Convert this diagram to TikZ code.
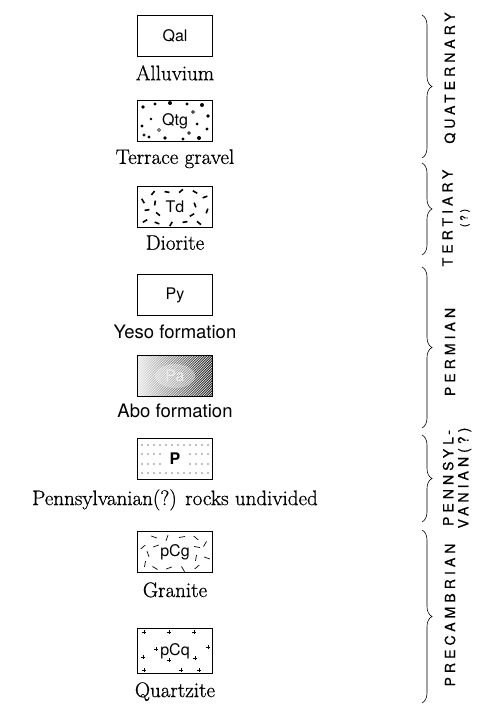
\documentclass[tikz,border=0pt]{standalone}
\usepackage{fontspec}
\newfontfamily\labelfont[FakeBold=0.8]{Latin Modern Roman}
\newfontfamily\gsans{TeX Gyre Heros}
\newfontfamily\erafont[LetterSpace=29,FakeBold=0.6]{TeX Gyre Heros}
\usetikzlibrary{positioning}
\usetikzlibrary{decorations.pathreplacing}

\tikzset{
  unitbox/.style={draw, line width=1.3pt, minimum width=75pt, minimum height=41pt,
    inner sep=0pt, font=\gsans\fontsize{16}{18}\selectfont},
  unitname/.style={inner sep=0pt, font=\labelfont\fontsize{21}{24}\selectfont},
  sansname/.style={inner sep=0pt, font=\gsans\fontsize{18.5}{21}\selectfont},
  eraname/.style={rotate=90, align=center, inner sep=0pt,
    font=\erafont\fontsize{14}{15}\selectfont},
  erabrace/.style={decorate, decoration={brace, amplitude=10pt}, line width=.6pt},
  % fills of the legend boxes
  gravelfill/.style={path picture={
    \foreach \a/\b/\r in {-32/14/1.8, -20/17/1.6, -5/18/2, 12/17/1.7, 27/16/2, 33/5/1.8,
      32/-8/1.7, 24/-17/2, 8/-18/1.6, -10/-17/1.8, -26/-16/1.7, -33/-5/1.6, -24/2/1.4, 22/-3/1.5}
      {\fill ([shift={(\a pt,\b pt)}]path picture bounding box.center) circle (\r pt);}
    \foreach \a/\b/\r in {-16/-9/1.5, 18/9/1.4, -31/-14/1.2, 14/-12/1.3}
      {\draw[line width=.7pt] ([shift={(\a pt,\b pt)}]path picture bounding box.center) circle (\r pt);}
    }},
  dioritefill/.style={path picture={
    \foreach \a/\b/\c in {-30/-14/30, -18/-16/-20, -4/-17/60, 10/-15/10, 24/-16/-40, 32/-4/70,
      30/10/20, 20/15/-30, 6/16/40, -8/15/-10, -22/14/50, -32/6/-60, -28/-3/10, -20/4/80,
      20/2/-70, 17/-8/30, -17/-7/-40}
      {\draw[line width=1.6pt] ([shift={(\a pt,\b pt)}]path picture bounding box.center)
        ++(\c:-2.5pt) -- ++(\c:5pt);}
    }},
  hatchfill/.style={path picture={
    \shade[left color=gray!20, right color=black!90] (path picture bounding box.south west)
      rectangle (path picture bounding box.north east);
    \foreach \k in {0,2.5,...,130}
      {\draw[white, line width=.45pt] ([xshift=\k pt-45pt]path picture bounding box.south west)
        -- ++(45pt,45pt);}
    \fill[white, opacity=.35] (path picture bounding box.center) ellipse (20pt and 12pt);
    }},
  dotfill/.style={path picture={
    \foreach \a in {-33,-27,...,33} \foreach \b in {-14,14}
      {\fill[gray] ([shift={(\a pt,\b pt)}]path picture bounding box.center) circle (.8pt);}
    \foreach \a in {-33,-27,-21,-15,15,21,27,33} \foreach \b in {-5,5}
      {\fill[gray] ([shift={(\a pt,\b pt)}]path picture bounding box.center) circle (.8pt);}
    }},
  granitefill/.style={path picture={
    \foreach \a/\b/\c in {-30/-12/80, -20/-16/-30, -6/-16/20, 8/-17/-60, 22/-15/40, 32/-6/-20,
      30/8/60, 21/14/-40, 7/15/10, -8/14/70, -21/15/-20, -32/5/40, -27/-2/-70, -19/6/20,
      21/-6/80, 22/5/-10}
      {\draw[line width=.7pt] ([shift={(\a pt,\b pt)}]path picture bounding box.center)
        ++(\c:-3pt) -- ++(\c:6pt);}
    }},
  quartzfill/.style={path picture={
    \foreach \a/\b in {-31/19, -6/19, 19/19, -31/-19, 6/-19, 24/-19, -32/-6, 33/4,
      -19/2, 20/-7, -6/-9}
      {\draw[line width=.8pt] ([shift={(\a pt,\b pt)}]path picture bounding box.center)
        +(-2.2pt,0) -- +(2.2pt,0) +(0,-2.2pt) -- +(0,2.2pt);}
    }},
}

\begin{document}
\begin{tikzpicture}[x=1pt, y=-1pt]
\useasboundingbox (0,0) rectangle (478,711);
%% legend boxes and their names
\node[unitbox] (qal) at (175,36) {Qal};
\node[unitname, anchor=north, below=8pt of qal] (alluvium) {Alluvium};
\node[unitbox, gravelfill] (qtg) at (175,121) {Qtg};
\node[unitname, anchor=north, below=7pt of qtg] (gravel) {Terrace gravel};
\node[unitbox, dioritefill] (td) at (175,207) {Td};
\node[unitname, anchor=north, below=7pt of td] (diorite) {Diorite};
\node[unitbox] (py) at (175,295) {Py};
\node[sansname, anchor=north, below=9pt of py] (yeso) {Yeso formation};
\node[unitbox, hatchfill, text=gray!15] (pa) at (175,376) {Pa};
\node[sansname, anchor=north, below=7pt of pa] (abo) {Abo formation};
\node[unitbox, dotfill] (pp) at (175,459) {\textbf{P}};
\node[unitname, anchor=north, below=9pt of pp] (penn) {Pennsylvanian(?) rocks undivided};
\node[unitbox, granitefill] (pcg) at (175,552) {pCg};
\node[unitname, anchor=north, below=9pt of pcg] (granite) {Granite};
\node[unitbox, quartzfill, minimum height=45pt] (pcq) at (175,651) {pCq};
\node[unitname, anchor=north, below=8pt of pcq] (quartzite) {Quartzite};
%% era braces
\draw[erabrace] (422,15) -- (422,158);
\draw[erabrace] (422,163) -- (422,255);
\draw[erabrace] (422,267) -- (422,428);
\draw[erabrace] (422,435) -- (422,522);
\draw[erabrace] (422,530) -- (422,703);
\node[eraname] (quat) at (450,78) {QUATERNARY};
\node[eraname] (tert) at (456,218) {TERTIARY\\{\fontsize{10}{11}\selectfont(?)}};
\node[eraname] (perm) at (450,352) {PERMIAN};
\node[eraname] (pennsyl) at (457,478) {PENNSYL-\\VANIAN(?)};
\node[eraname] (prec) at (450,615) {PRECAMBRIAN};
\end{tikzpicture}
\end{document}
